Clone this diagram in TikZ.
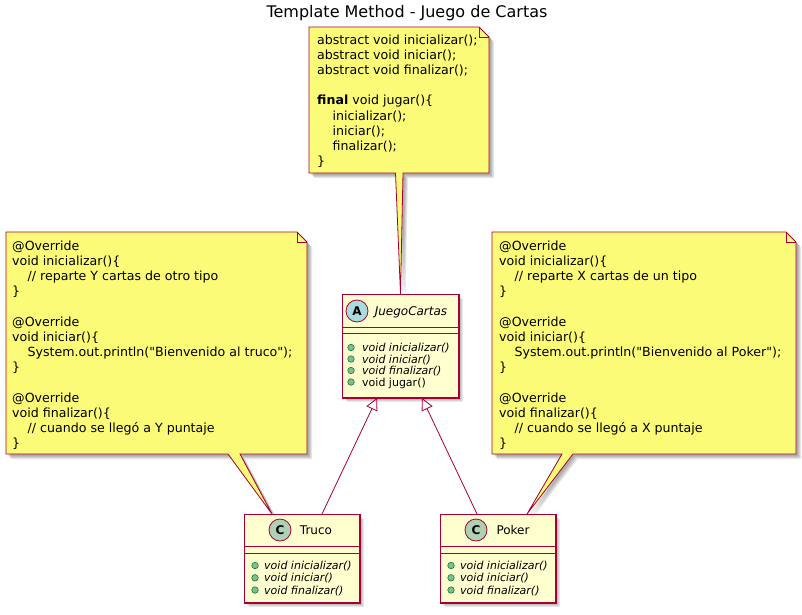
\documentclass[tikz,border=0pt]{standalone}
\usepackage{fontspec}
\setmainfont{DejaVu Sans}[Ligatures=TeXOff]
\usetikzlibrary{arrows.meta,calc}
\definecolor{umlred}{HTML}{A80036}
\definecolor{notefill}{HTML}{FBFB77}
\definecolor{clsfill}{HTML}{FEFECE}
\definecolor{absicon}{HTML}{A9DCDF}
\definecolor{clsicon}{HTML}{ADD1B2}
\definecolor{pubfill}{HTML}{84BE84}
\definecolor{pubdraw}{HTML}{038048}
\newcommand\ind{\hspace*{15.5pt}}
% note outline: x1,y1,x2,y2,tailL,tailR,tip
\newcommand\notebox[7]{%
  \foreach \s in {2,3,4,5}{%
    \fill[black,opacity=0.09,transform canvas={shift={(\s pt,-\s pt)}}]
      (#1,#2) -- (#3-10,#2) -- (#3,#2+10) -- (#3,#4) -- (#6,#4) -- #7 -- (#5,#4) -- (#1,#4) -- cycle;}
  \filldraw[notestyle] (#1,#2) -- (#3-10,#2) -- (#3,#2+10) -- (#3,#4) -- (#6,#4) -- #7 -- (#5,#4) -- (#1,#4) -- cycle;
  \draw[notestyle,fill=none] (#3-10,#2) -- (#3-10,#2+10) -- (#3,#2+10);
}
\begin{document}
\begin{tikzpicture}[x=1pt,y=-1pt,
  notestyle/.style={draw=umlred,fill=notefill,line width=0.8pt,line join=miter},
  notetext/.style={anchor=north west,inner sep=0pt,align=left,font=\fontsize{12.6}{15.2}\selectfont},
  clsbox/.style={draw=umlred,fill=clsfill,line width=1pt,anchor=north west,inner sep=0pt},
  clsshadow/.style={fill=black,opacity=0.09},
  icon/.style={circle,draw=umlred,line width=0.8pt,minimum size=22pt,inner sep=0pt,font=\bfseries\fontsize{12}{12}\selectfont},
  clsname/.style={anchor=base,inner sep=0pt,font=\fontsize{12}{12}\selectfont},
  meth/.style={anchor=base west,inner sep=0pt,font=\itshape\fontsize{11}{11}\selectfont},
  bullet/.style={circle,draw=pubdraw,fill=pubfill,line width=0.6pt,minimum size=6.5pt,inner sep=0pt},
  inh/.style={draw=umlred,line width=0.8pt,-{Triangle[open,length=12pt,width=12pt]}},
  sep/.style={draw=umlred,line width=1pt}]
\useasboundingbox (0,0) rectangle (802,614);
\fill[white] (0,0) rectangle (802,614);

% title
\node[anchor=base,inner sep=0pt,font=\fontsize{16}{16}\selectfont] (title) at (407,17) {Template Method - Juego de Cartas};

% class shadows
\foreach \s in {2,3,4,5}{%
  \fill[clsshadow,transform canvas={shift={(\s pt,-\s pt)}}] (342,294) rectangle (458,397);
  \fill[clsshadow,transform canvas={shift={(\s pt,-\s pt)}}] (244,514) rectangle (359,602);
  \fill[clsshadow,transform canvas={shift={(\s pt,-\s pt)}}] (440,514) rectangle (555,602);}

\node[clsbox,minimum width=116pt,minimum height=103pt] (jc) at (342,294) {};
\node[clsbox,minimum width=115pt,minimum height=88pt] (truco) at (244,514) {};
\node[clsbox,minimum width=115pt,minimum height=88pt] (poker) at (440,514) {};

% notes
\notebox{309}{27}{489}{173}{395.5}{403}{(jc.north)}
\node[notetext] (n1) at (317,34.4) {abstract void inicializar();\\
abstract void iniciar();\\
abstract void finalizar();\\
\mbox{}\\
\textbf{final} void jugar()\{\\
\ind inicializar();\\
\ind iniciar();\\
\ind finalizar();\\
\}};

\notebox{6}{232}{307}{454}{228}{240}{($(truco.north west)+(28,0)$)}
\node[notetext] (n2) at (12,240.4) {@Override\\
void inicializar()\{\\
\ind // reparte Y cartas de otro tipo\\
\}\\
\mbox{}\\
@Override\\
void iniciar()\{\\
\ind System.out.println("Bienvenido al truco");\\
\}\\
\mbox{}\\
@Override\\
void finalizar()\{\\
\ind // cuando se llegó a Y puntaje\\
\}};

\notebox{492}{232}{796}{454}{562}{573}{($(poker.north west)+(87,0)$)}
\node[notetext] (n3) at (499,240.4) {@Override\\
void inicializar()\{\\
\ind // reparte X cartas de un tipo\\
\}\\
\mbox{}\\
@Override\\
void iniciar()\{\\
\ind System.out.println("Bienvenido al Poker");\\
\}\\
\mbox{}\\
@Override\\
void finalizar()\{\\
\ind // cuando se llegó a X puntaje\\
\}};

% redraw class frames on top of note tails
\draw[umlred,line width=1pt] (jc.north west) rectangle (jc.south east);
\draw[umlred,line width=1pt] (truco.north west) rectangle (truco.south east);
\draw[umlred,line width=1pt] (poker.north west) rectangle (poker.south east);

% JuegoCartas contents
\node[icon,fill=absicon] (jcicon) at (357,311) {A};
\node[clsname,font=\itshape\fontsize{12}{12}\selectfont] (jcname) at (411,315) {JuegoCartas};
\draw[sep] (342,327) -- (458,327);
\draw[sep] (342,333) -- (458,333);
\node[bullet] (jb1) at (351,347.5) {};
\node[meth] (jm1) at (362,351.5) {void inicializar()};
\node[bullet] (jb2) at (351,359) {};
\node[meth] (jm2) at (362,363) {void iniciar()};
\node[bullet] (jb3) at (351,370.5) {};
\node[meth] (jm3) at (362,374.5) {void finalizar()};
\node[bullet] (jb4) at (351,382) {};
\node[meth,font=\fontsize{11}{11}\selectfont] (jm4) at (362,386) {void jugar()};

% Truco contents
\node[icon,fill=clsicon] (ticon) at (280,530) {C};
\node[clsname] (tname) at (316,534.5) {Truco};
\draw[sep] (244,546) -- (359,546);
\draw[sep] (244,553) -- (359,553);
\node[bullet] (tb1) at (255,565.5) {};
\node[meth] (tm1) at (264,569.5) {void inicializar()};
\node[bullet] (tb2) at (255,577.8) {};
\node[meth] (tm2) at (264,581.8) {void iniciar()};
\node[bullet] (tb3) at (255,590) {};
\node[meth] (tm3) at (264,594) {void finalizar()};

% Poker contents
\node[icon,fill=clsicon] (picon) at (476,530) {C};
\node[clsname] (pname) at (513,534.5) {Poker};
\draw[sep] (440,546) -- (555,546);
\draw[sep] (440,553) -- (555,553);
\node[bullet] (pb1) at (451,565.5) {};
\node[meth] (pm1) at (460,569.5) {void inicializar()};
\node[bullet] (pb2) at (451,577.8) {};
\node[meth] (pm2) at (460,581.8) {void iniciar()};
\node[bullet] (pb3) at (451,590) {};
\node[meth] (pm3) at (460,594) {void finalizar()};

% inheritance
\draw[inh] ($(truco.north west)+(78,0)$) -- ($(jc.south west)+(35,0)$);
\draw[inh] ($(poker.north west)+(37,0)$) -- ($(jc.south west)+(80,0)$);
\end{tikzpicture}
\end{document}
